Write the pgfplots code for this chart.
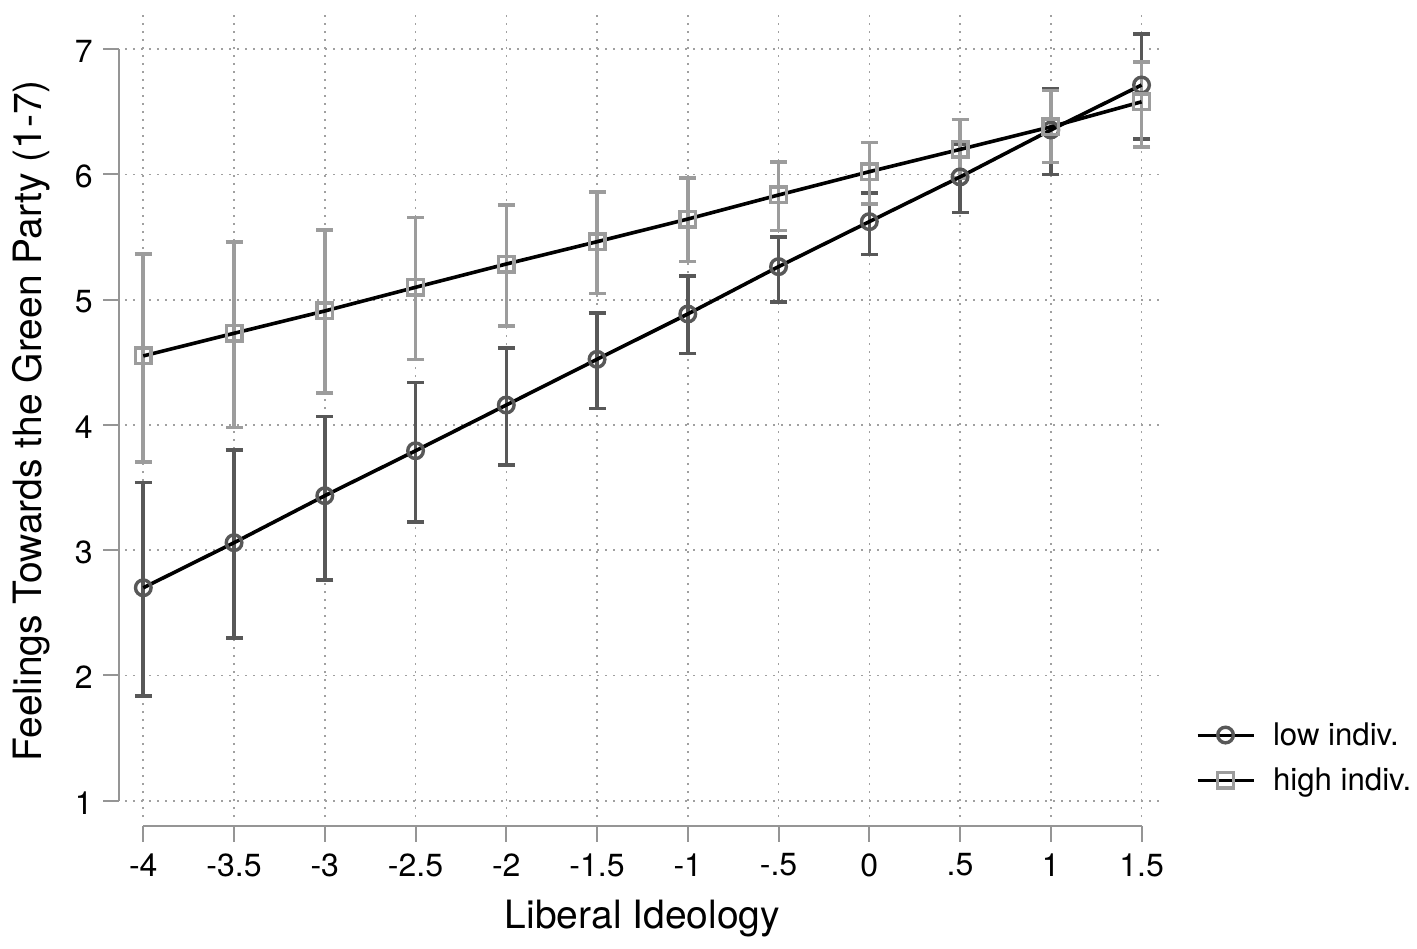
\documentclass[border=0pt]{standalone}
\usepackage{fontspec}
\setmainfont{TeX Gyre Heros}
\usepackage{pgfplots}
\pgfplotsset{compat=1.18}
\usepackage{pgfplotstable}

\definecolor{lowc}{HTML}{585858}
\definecolor{highc}{HTML}{9C9C9C}
\definecolor{axc}{HTML}{959595}
\definecolor{gridc}{HTML}{A0A0A0}

\pgfplotstableread{
x y lo hi
-4 2.700 1.838 3.539
-3.5 3.060 2.299 3.802
-3 3.435 2.762 4.069
-2.5 3.794 3.225 4.340
-2 4.159 3.680 4.612
-1.5 4.524 4.130 4.896
-1 4.886 4.569 5.190
-0.5 5.264 4.982 5.500
0 5.623 5.360 5.854
0.5 5.980 5.695 6.240
1 6.355 6.000 6.685
1.5 6.714 6.285 7.120
}\lowtab

\pgfplotstableread{
x y lo hi
-4 4.551 3.704 5.365
-3.5 4.732 3.981 5.463
-3 4.910 4.253 5.556
-2.5 5.099 4.521 5.655
-2 5.285 4.790 5.754
-1.5 5.463 5.051 5.862
-1 5.644 5.306 5.974
-0.5 5.836 5.551 6.100
0 6.022 5.764 6.254
0.5 6.200 5.970 6.440
1 6.380 6.094 6.670
1.5 6.580 6.220 6.900
}\hightab

\begin{document}
\begin{tikzpicture}
\begin{axis}[
  at={(62.5pt,65.5pt)}, anchor=south west,
  scale only axis, width=518.5pt, height=403.5pt,
  xmin=-4.1008, xmax=1.6127, ymin=0.8699, ymax=7.3130,
  clip=false,
  axis line style={draw=none},
  major tick length=0pt,
  xtick={-4,-3.5,-3,-2.5,-2,-1.5,-1,-0.5,0,0.5,1,1.5},
  xticklabels={-4,-3.5,-3,-2.5,-2,-1.5,-1,-.5,0,.5,1,1.5},
  ytick={1,2,3,4,5,6,7},
  yticklabels={1,2,3,4,5,6,7},
  grid=major,
  major grid style={gridc, line width=0.8pt, dash pattern=on 0.8pt off 3.2pt},
  xticklabel style={font=\fontsize{16}{18}\selectfont, anchor=north, inner sep=0pt, yshift=-18pt},
  yticklabel style={font=\fontsize{16}{18}\selectfont, anchor=east, inner sep=0pt, xshift=-16pt, yshift=-1pt},
  xlabel={Liberal Ideology},
  ylabel={Feelings Towards the Green Party (1-7)},
  every axis x label/.style={at={(axis description cs:0.499,-0.1252)}, anchor=center, inner sep=0pt, font=\fontsize{19.5}{23}\selectfont},
  every axis y label/.style={at={(axis description cs:-0.0904,0.491)}, anchor=center, rotate=90, inner sep=0pt, font=\fontsize{19.5}{23}\selectfont},
  legend image code/.code={\draw[mark repeat=2, mark phase=2, line width=1.5pt] plot coordinates {(0pt,0pt)(14pt,0pt)(28pt,0pt)};},
  legend style={at={(axis description cs:1.0328,0.0737)}, anchor=west, draw=none, fill=none,
    inner sep=0pt, outer sep=0pt, row sep=5.4pt,
    font=\fontsize{15.6}{18}\selectfont,
    nodes={inner sep=0pt, text height=13.9pt, text depth=3.2pt, anchor=west},
    /tikz/every odd column/.append style={column sep=9pt}},
  legend cell align=left,
]
% error bars
\addplot[forget plot, draw=none, mark=none,
  error bars/.cd, y dir=both, y explicit,
  error bar style={draw=lowc, line width=1.8pt, solid},
  error mark options={draw=lowc, line width=1.8pt, mark size=4.25pt, rotate=90}]
  table[x=x, y=y, y error plus expr=\thisrow{hi}-\thisrow{y}, y error minus expr=\thisrow{y}-\thisrow{lo}]{\lowtab};
\addplot[forget plot, draw=none, mark=none,
  error bars/.cd, y dir=both, y explicit,
  error bar style={draw=highc, line width=1.8pt, solid},
  error mark options={draw=highc, line width=1.8pt, mark size=4.25pt, rotate=90}]
  table[x=x, y=y, y error plus expr=\thisrow{hi}-\thisrow{y}, y error minus expr=\thisrow{y}-\thisrow{lo}]{\hightab};
% lines and markers
\addplot[black, line width=1.8pt, mark=o, mark size=3.9pt, mark options={lowc, line width=1.7pt, solid}]
  table[x=x, y=y]{\lowtab};
\addlegendentry{low indiv.}
\addplot[black, line width=1.8pt, mark=square, mark size=3.9pt, mark options={highc, line width=1.7pt, solid}]
  table[x=x, y=y]{\hightab};
\addlegendentry{high indiv.}
% Stata-style offset axes
\draw[axc, line width=1pt] (axis cs:-4.1366,1) -- (axis cs:-4.1366,7);
\pgfplotsinvokeforeach{1,2,3,4,5,6,7}{\draw[axc, line width=1pt] (axis cs:-4.1366,#1) -- ++(-7.75pt,0pt);}
\draw[axc, line width=1pt] (axis cs:-4,0.798) -- (axis cs:1.5,0.798);
\pgfplotsinvokeforeach{-4,-3.5,-3,-2.5,-2,-1.5,-1,-0.5,0,0.5,1,1.5}{\draw[axc, line width=1pt] (axis cs:#1,0.798) -- ++(0pt,-8pt);}
\end{axis}
\pgfresetboundingbox
\useasboundingbox (0,0) rectangle (708.5pt,474pt);
\end{tikzpicture}
\end{document}
